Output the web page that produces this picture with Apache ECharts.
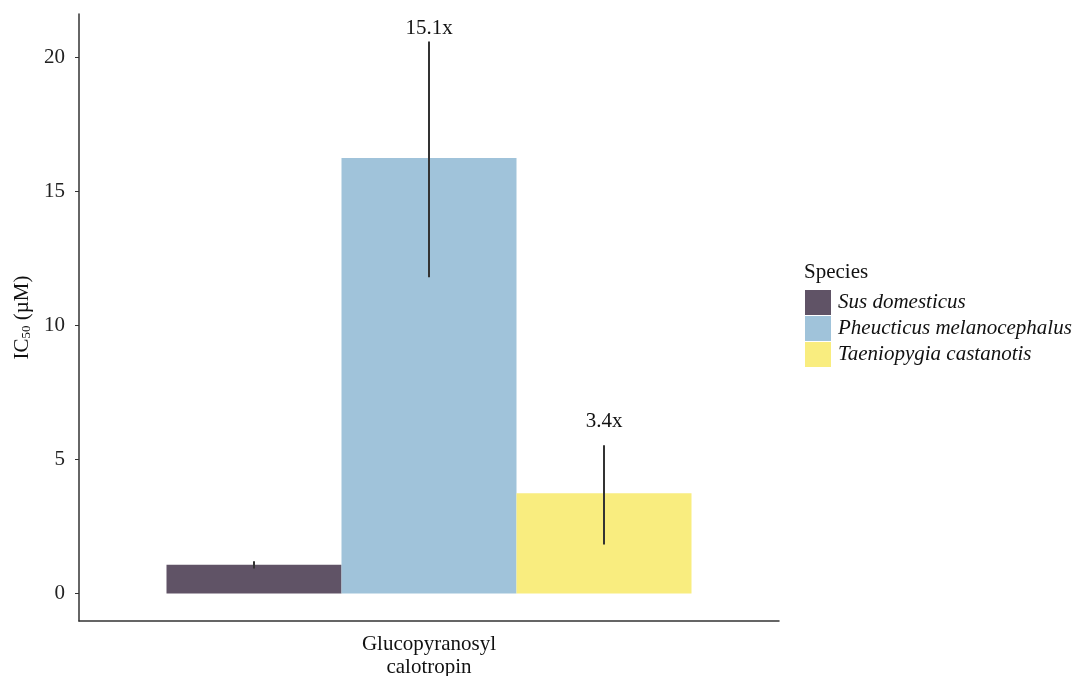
<!DOCTYPE html>
<html>
<head>
<meta charset="utf-8">
<script src="https://cdn.jsdelivr.net/npm/echarts@6/dist/echarts.min.js"></script>
<style>html,body{margin:0;padding:0;background:#fff;}#c{width:1077px;height:676px;}</style>
</head>
<body>
<div id="c"></div>
<script>
const categories = ['Glucopyranosyl\ncalotropin'];
const species = ['Sus domesticus', 'Pheucticus melanocephalus', 'Taeniopygia castanotis'];
const ic50 = [1.07, 16.25, 3.74];
const errLow = [0.93, 11.8, 1.83];
const errHigh = [1.2, 20.6, 5.53];
const foldLabels = ['', '15.1x', '3.4x'];
const foldLabelY = [null, 21.1, 6.4];
const yTicks = [0, 5, 10, 15, 20];
const colors = ['#605366', '#a0c3da', '#f9ed7f'];

const FONT = 'Liberation Serif';
const FS = 21;
const chart = echarts.init(document.getElementById('c'), null, {renderer: 'canvas'});

const barSeries = species.map((s, i) => ({
  name: s,
  type: 'bar',
  data: [ic50[i]],
  barGap: '0%',
  barCategoryGap: '25%',
  itemStyle: {color: colors[i]},
  emphasis: {disabled: true},
  z: 2
}));

const errData = species.map((s, i) => [0, errLow[i], errHigh[i], foldLabelY[i] == null ? errHigh[i] : foldLabelY[i], i]);

const errSeries = {
  type: 'custom',
  name: 'err',
  data: errData,
  encode: {x: 0, y: [1, 2, 3]},
  z: 5,
  silent: true,
  renderItem: function (params, api) {
    const i = api.value(4);
    const band = api.size([1, 0])[0];
    const barW = band * 0.75 / 3;
    const off = (i - 1) * barW;
    const lo = api.coord([0, api.value(1)]);
    const hi = api.coord([0, api.value(2)]);
    const lab = api.coord([0, api.value(3)]);
    const x = lo[0] + off;
    const children = [{
      type: 'line',
      shape: {x1: x, y1: lo[1], x2: x, y2: hi[1]},
      style: {stroke: '#333', lineWidth: 2}
    }];
    if (foldLabels[i]) {
      children.push({
        type: 'text',
        style: {
          text: foldLabels[i], x: x, y: lab[1],
          align: 'center', verticalAlign: 'middle',
          font: FS + 'px "' + FONT + '"', fill: '#111'
        }
      });
    }
    return {type: 'group', children: children};
  }
};

chart.setOption({
  animation: false,
  backgroundColor: '#fff',
  textStyle: {fontFamily: FONT},
  grid: {left: 79, right: 298, top: 14, bottom: 55, containLabel: false, outerBoundsMode: 'none'},
  title: {
    text: 'Species', left: 799, top: 257, padding: 5,
    textStyle: {fontFamily: FONT, fontSize: FS, fontWeight: 'normal', color: '#111'}
  },
  legend: {
    data: species,
    orient: 'vertical',
    left: 805, top: 290, padding: 0,
    icon: 'rect',
    itemWidth: 26, itemHeight: 25, itemGap: 1,
    textStyle: {fontFamily: FONT, fontSize: FS, fontStyle: 'italic', color: '#111', padding: [0, 0, 0, 2]},
    selectedMode: false
  },
  xAxis: {
    type: 'category',
    data: categories,
    axisLine: {onZero: false, lineStyle: {color: '#333', width: 1.5}},
    axisTick: {alignWithLabel: true, length: 5, lineStyle: {color: '#333'}},
    axisLabel: {fontFamily: FONT, fontSize: FS, color: '#111', margin: 12, lineHeight: 23}
  },
  yAxis: {
    type: 'value',
    min: -1.03, max: 21.63,
    splitLine: {show: false},
    axisLine: {show: true, lineStyle: {color: '#333', width: 1.5}},
    axisTick: {show: true, length: 4, lineStyle: {color: '#333'}, customValues: yTicks},
    axisLabel: {fontFamily: FONT, fontSize: FS, color: '#222', margin: 14, customValues: yTicks},
    name: '{a|IC}{b|50}{a| (µM)}',
    nameLocation: 'middle',
    nameRotate: 90,
    nameGap: 45,
    nameTextStyle: {
      rich: {
        a: {fontFamily: FONT, fontSize: FS, color: '#111'},
        b: {fontFamily: FONT, fontSize: 13, color: '#111', verticalAlign: 'bottom', padding: [9, 0, 0, 0]}
      }
    }
  },
  series: [...barSeries, errSeries]
});
</script>
</body>
</html>
